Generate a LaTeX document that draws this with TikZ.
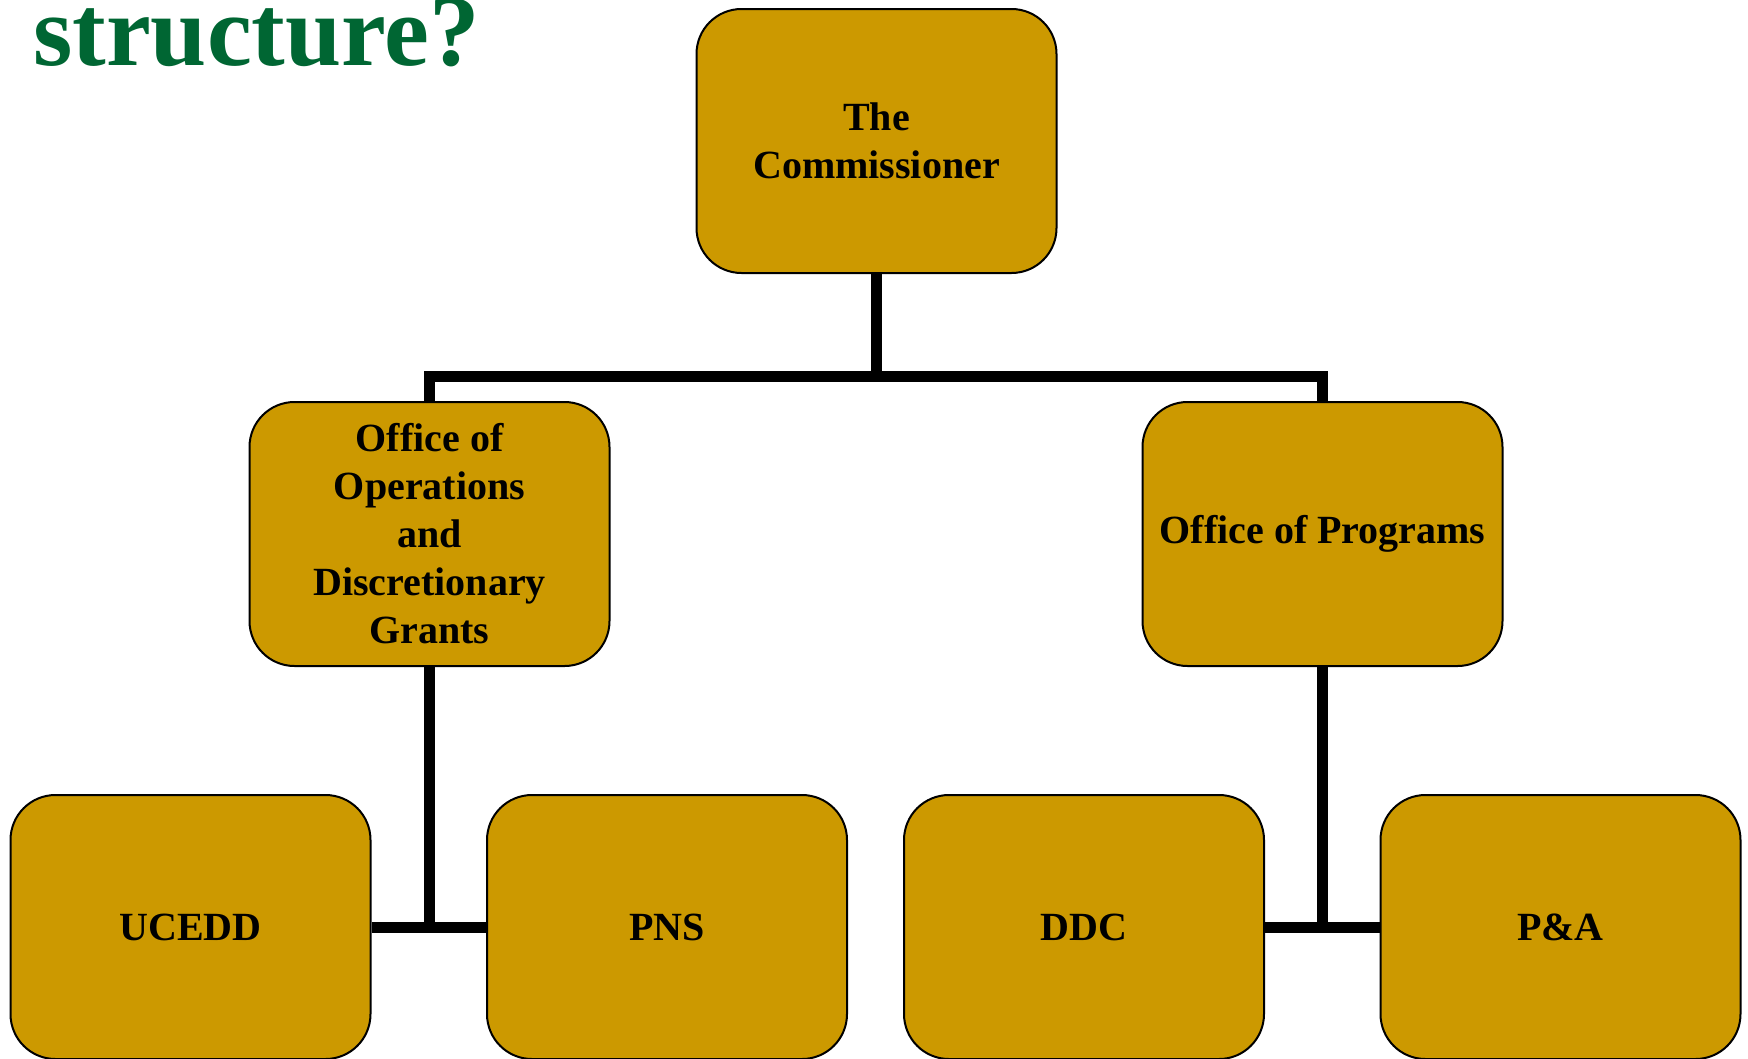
\documentclass[tikz,border=0pt]{standalone}
\usepackage{fontspec}
\setmainfont{Liberation Serif}
\definecolor{boxgold}{RGB}{204,153,0}
\definecolor{titlegreen}{RGB}{0,102,51}
\begin{document}
\begin{tikzpicture}[x=1pt,y=-1pt,
  orgbox/.style={draw=black, line width=2pt, fill=boxgold, rounded corners=45pt,
    minimum width=360pt, minimum height=264pt, align=center, inner sep=0pt,
    font=\fontsize{40}{48}\selectfont\bfseries},
  link/.style={draw=black, line width=11pt}]
\useasboundingbox (0,0) rectangle (1748,1058);
\node[anchor=base west, text=titlegreen, inner sep=0pt, font=\fontsize{101}{110}\selectfont\bfseries] (title) at (33,65) {structure?};
\node[orgbox] (comm) at (876.5,141) {The\\Commissioner};
\node[orgbox] (ood) at (429.5,534) {Office of\\Operations\\and\\Discretionary\\Grants};
\node[orgbox] (op) at (1322.5,534) {Office of Programs};
\node[orgbox] (ucedd) at (190.5,927) {UCEDD};
\node[orgbox] (pns) at (667,927) {PNS};
\node[orgbox] (ddc) at (1084,927) {DDC};
\node[orgbox] (pa) at (1560.5,927) {P\&A};
\coordinate (bus) at (876.5,376);
\draw[link] (comm.south) -- (bus);
\draw[link] (ood.north) -- (ood.north |- bus) -- (op.north |- bus) -- (op.north);
\draw[link] (ood.south) -- (ood.south |- ucedd.east);
\draw[link] (ucedd.east) -- (pns.west);
\draw[link] (op.south) -- (op.south |- ddc.east);
\draw[link] (ddc.east) -- (pa.west);
\end{tikzpicture}
\end{document}
